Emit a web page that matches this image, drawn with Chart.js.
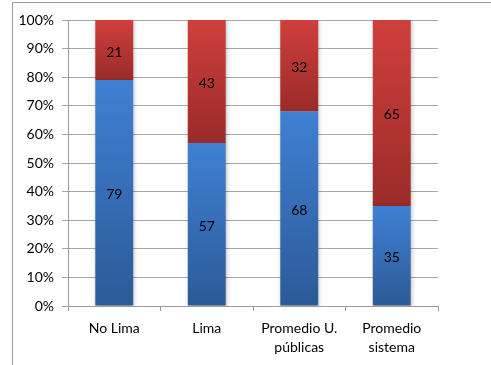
<!DOCTYPE html>
<html>
<head>
<meta charset="utf-8">
<script src="https://cdn.jsdelivr.net/npm/chart.js@4/dist/chart.umd.min.js"></script>
<style>
  html, body { margin: 0; padding: 0; background: #fff; }
  #wrap { width: 491px; height: 365px; position: relative; }
</style>
</head>
<body>
<div id="wrap"><canvas id="chart"></canvas></div>
<script>
// data
var categories = ['No Lima', 'Lima', ['Promedio U.', 'públicas'], ['Promedio', 'sistema']];
var blueValues = [79, 57, 68, 35];
var redValues = [21, 43, 32, 65];
var yTicks = [0, 10, 20, 30, 40, 50, 60, 70, 80, 90, 100];

var FONT = 'Lato, "Open Sans", sans-serif';

// vertical gradient per segment, light on top, darker at bottom
function segmentFill(topColor, bottomColor) {
    return function (ctx) {
        var chart = ctx.chart;
        var y = chart.scales.y;
        if (!y || ctx.dataIndex === undefined) return topColor;
        var lower = ctx.datasetIndex === 0 ? 0 : blueValues[ctx.dataIndex];
        var upper = ctx.datasetIndex === 0 ? blueValues[ctx.dataIndex] : lower + redValues[ctx.dataIndex];
        var yTop = y.getPixelForValue(upper);
        var yBot = y.getPixelForValue(lower);
        if (!isFinite(yTop) || !isFinite(yBot) || yTop === yBot) return topColor;
        var g = chart.ctx.createLinearGradient(0, yTop, 0, yBot);
        g.addColorStop(0, topColor);
        g.addColorStop(1, bottomColor);
        return g;
    };
}

// value labels in the middle of each segment
var valueLabels = {
    id: 'valueLabels',
    afterDatasetsDraw: function (chart) {
        var c = chart.ctx;
        c.save();
        c.font = '14px ' + FONT;
        c.fillStyle = '#000';
        c.textAlign = 'center';
        c.textBaseline = 'middle';
        chart.data.datasets.forEach(function (ds, i) {
            chart.getDatasetMeta(i).data.forEach(function (el, j) {
                c.fillText(ds.data[j], el.x, (el.y + el.base) / 2 + 2);
            });
        });
        c.restore();
    }
};

// soft shadow behind the bars
var barShadow = {
    id: 'barShadow',
    beforeDatasetsDraw: function (chart) {
        var c = chart.ctx;
        c.save();
        c.shadowColor = 'rgba(0,0,0,0.25)';
        c.shadowBlur = 4;
        c.shadowOffsetX = 1;
        c.shadowOffsetY = 1;
    },
    afterDatasetsDraw: function (chart) {
        chart.ctx.restore();
    }
};

// outer frame (left + top edge)
var frame = {
    id: 'frame',
    afterDraw: function (chart) {
        var c = chart.ctx;
        c.save();
        c.strokeStyle = '#9a9a9a';
        c.lineWidth = 1;
        c.beginPath();
        c.moveTo(12.5, 365);
        c.lineTo(12.5, 2.5);
        c.lineTo(491, 2.5);
        c.stroke();
        c.restore();
    }
};

var chart = new Chart(document.getElementById('chart'), {
    type: 'bar',
    data: {
        labels: categories,
        datasets: [
            {
                label: 'azul',
                data: blueValues,
                backgroundColor: segmentFill('#3f80d3', '#2c5a97'),
                barPercentage: 0.41,
                categoryPercentage: 1
            },
            {
                label: 'rojo',
                data: redValues,
                backgroundColor: segmentFill('#d03f3c', '#9a2b29'),
                barPercentage: 0.41,
                categoryPercentage: 1
            }
        ]
    },
    options: {
        responsive: true,
        maintainAspectRatio: false,
        animation: false,
        layout: { padding: { left: 0, right: 53, top: 20, bottom: 0 } },
        plugins: {
            legend: { display: false },
            tooltip: { enabled: false }
        },
        scales: {
            x: {
                stacked: true,
                afterFit: function (s) { s.height = 59; },
                grid: {
                    drawOnChartArea: false,
                    drawTicks: true,
                    tickLength: 5,
                    color: '#9a9a9a',
                    offset: true
                },
                border: { color: '#9a9a9a' },
                ticks: {
                    color: '#000',
                    padding: 8,
                    maxRotation: 0,
                    font: { family: FONT, size: 14, lineHeight: 1.38 }
                }
            },
            y: {
                stacked: true,
                min: 0,
                max: 100,
                afterFit: function (s) { s.width = 68; },
                afterBuildTicks: function (s) {
                    s.ticks = yTicks.map(function (v) { return { value: v }; });
                },
                grid: { color: '#a6a6a6', tickLength: 6 },
                border: { color: '#9a9a9a' },
                ticks: {
                    color: '#000',
                    padding: 8,
                    font: { family: FONT, size: 14 },
                    callback: function (v) { return v + '%'; }
                }
            }
        }
    },
    plugins: [barShadow, valueLabels, frame]
});
</script>
</body>
</html>
